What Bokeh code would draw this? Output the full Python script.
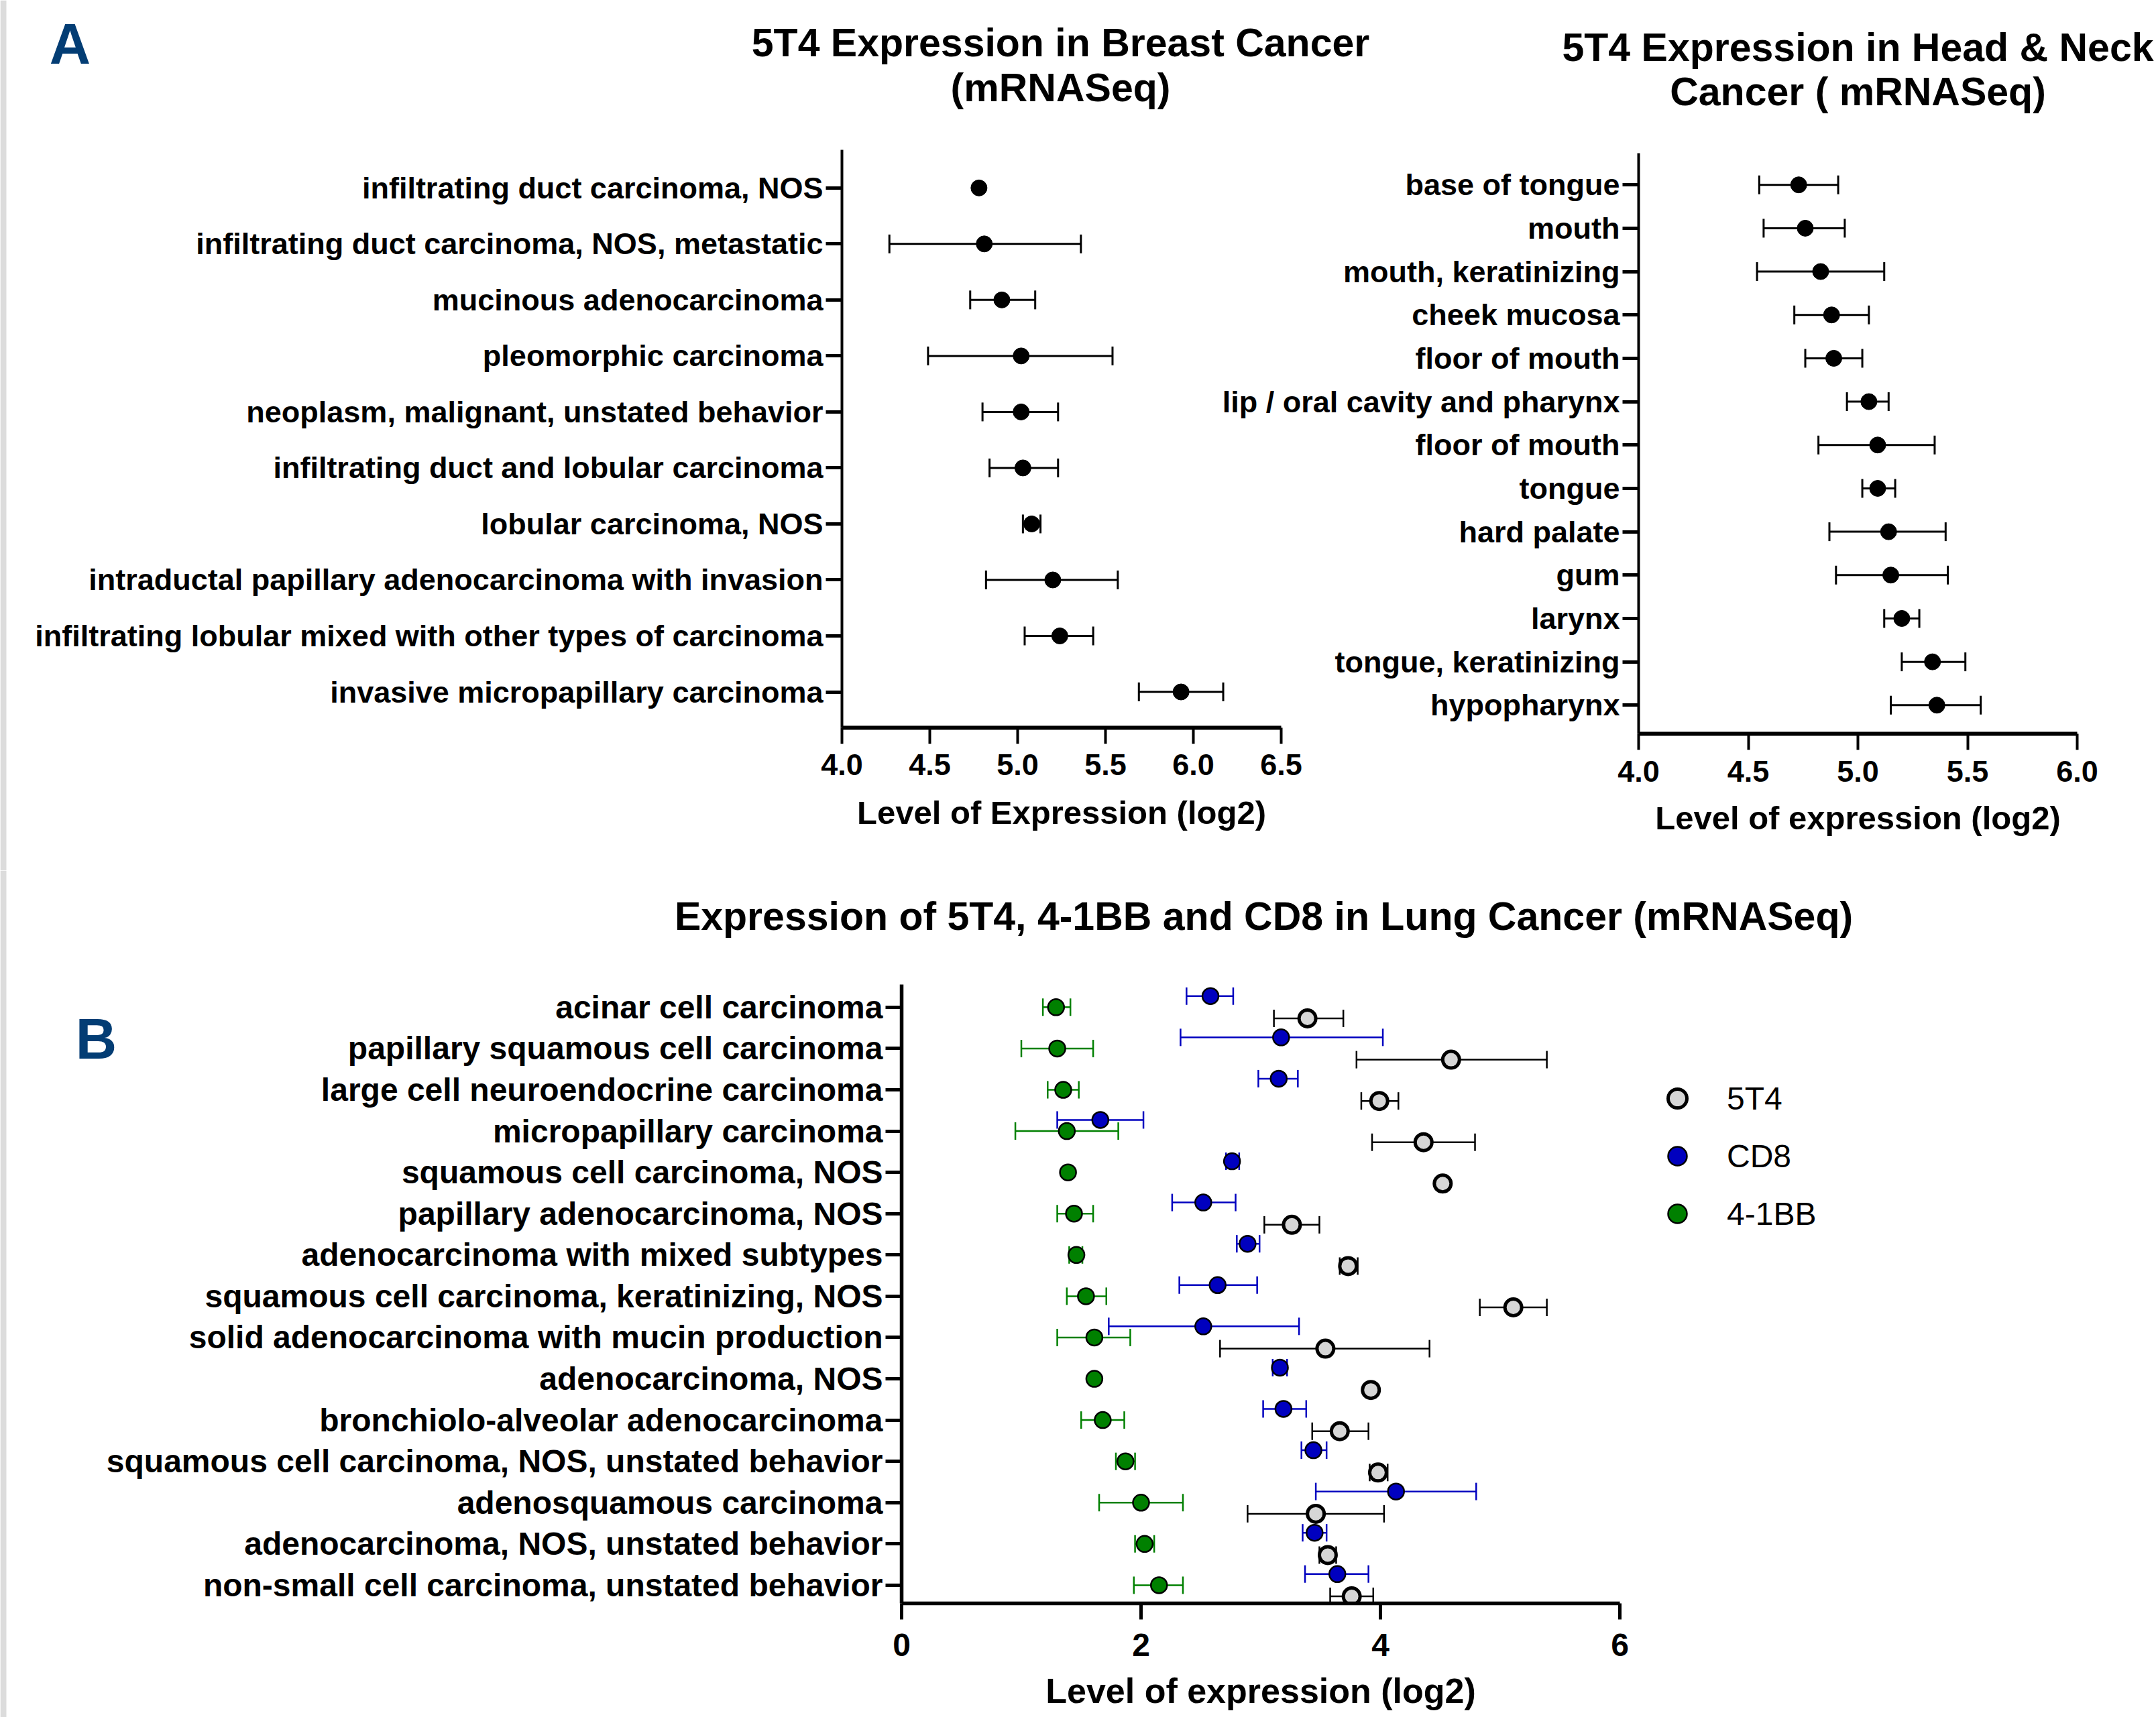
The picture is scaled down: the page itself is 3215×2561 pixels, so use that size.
import math
from bokeh.plotting import figure
from bokeh.models import (ColumnDataSource, Range1d, FixedTicker, Legend,
                          LegendItem, GridBox)
from bokeh.core.properties import value
from bokeh.embed import file_html
from bokeh.resources import INLINE

NAN = float("nan")
FONT = "Liberation Sans"

# ---------------- data ----------------
breast_categories = [
    "infiltrating duct carcinoma, NOS",
    "infiltrating duct carcinoma, NOS, metastatic",
    "mucinous adenocarcinoma",
    "pleomorphic carcinoma",
    "neoplasm, malignant, unstated behavior",
    "infiltrating duct and lobular carcinoma",
    "lobular carcinoma, NOS",
    "intraductal papillary adenocarcinoma with invasion",
    "infiltrating lobular mixed with other types of carcinoma",
    "invasive micropapillary carcinoma",
]
breast_mean = [4.78, 4.81, 4.91, 5.02, 5.02, 5.03, 5.08, 5.20, 5.24, 5.93]
breast_low = [NAN, 4.27, 4.73, 4.49, 4.80, 4.84, 5.03, 4.82, 5.04, 5.69]
breast_high = [NAN, 5.36, 5.10, 5.54, 5.23, 5.23, 5.13, 5.57, 5.43, 6.17]
breast_ticks = [4.0, 4.5, 5.0, 5.5, 6.0, 6.5]

hn_categories = [
    "base of tongue", "mouth", "mouth, keratinizing", "cheek mucosa",
    "floor of mouth", "lip / oral cavity and pharynx", "floor of mouth",
    "tongue", "hard palate", "gum", "larynx", "tongue, keratinizing",
    "hypopharynx",
]
hn_mean = [4.73, 4.76, 4.83, 4.88, 4.89, 5.05, 5.09, 5.09, 5.14, 5.15, 5.20, 5.34, 5.36]
hn_low = [4.55, 4.57, 4.54, 4.71, 4.76, 4.95, 4.82, 5.02, 4.87, 4.90, 5.12, 5.20, 5.15]
hn_high = [4.91, 4.94, 5.12, 5.05, 5.02, 5.14, 5.35, 5.17, 5.40, 5.41, 5.28, 5.49, 5.56]
hn_ticks = [4.0, 4.5, 5.0, 5.5, 6.0]

lung_categories = [
    "acinar cell carcinoma",
    "papillary squamous cell carcinoma",
    "large cell neuroendocrine carcinoma",
    "micropapillary carcinoma",
    "squamous cell carcinoma, NOS",
    "papillary adenocarcinoma, NOS",
    "adenocarcinoma with mixed subtypes",
    "squamous cell carcinoma, keratinizing, NOS",
    "solid adenocarcinoma with mucin production",
    "adenocarcinoma, NOS",
    "bronchiolo-alveolar adenocarcinoma",
    "squamous cell carcinoma, NOS, unstated behavior",
    "adenosquamous carcinoma",
    "adenocarcinoma, NOS, unstated behavior",
    "non-small cell carcinoma, unstated behavior",
]
t5t4_mean = [3.39, 4.59, 3.99, 4.36, 4.52, 3.26, 3.73, 5.11, 3.54, 3.92, 3.66, 3.98, 3.46, 3.56, 3.76]
t5t4_low = [3.11, 3.80, 3.84, 3.93, NAN, 3.03, 3.66, 4.83, 2.66, NAN, 3.43, 3.91, 2.89, 3.49, 3.58]
t5t4_high = [3.69, 5.39, 4.15, 4.79, NAN, 3.49, 3.81, 5.39, 4.41, NAN, 3.90, 4.06, 4.03, 3.63, 3.94]
cd8_mean = [2.58, 3.17, 3.15, 1.66, 2.76, 2.52, 2.89, 2.64, 2.52, 3.16, 3.19, 3.44, 4.13, 3.45, 3.64]
cd8_low = [2.38, 2.33, 2.98, 1.30, 2.71, 2.26, 2.80, 2.32, 1.73, 3.10, 3.02, 3.34, 3.46, 3.35, 3.37]
cd8_high = [2.77, 4.02, 3.31, 2.02, 2.82, 2.79, 2.99, 2.97, 3.32, 3.22, 3.38, 3.55, 4.80, 3.55, 3.90]
bb_mean = [1.29, 1.30, 1.35, 1.38, 1.39, 1.44, 1.46, 1.54, 1.61, 1.61, 1.68, 1.87, 2.00, 2.03, 2.15]
bb_low = [1.18, 1.00, 1.22, 0.95, NAN, 1.30, 1.40, 1.38, 1.30, NAN, 1.50, 1.79, 1.65, 1.95, 1.94]
bb_high = [1.41, 1.60, 1.48, 1.81, NAN, 1.60, 1.51, 1.71, 1.91, NAN, 1.86, 1.95, 2.35, 2.11, 2.35]
lung_ticks = [0, 2, 4, 6]
lung_series = ["5T4", "CD8", "4-1BB"]

breast_title = ["5T4 Expression in Breast Cancer", "(mRNASeq)"]
hn_title = ["5T4 Expression in Head & Neck", "Cancer ( mRNASeq)"]
lung_title = "Expression of 5T4, 4-1BB and CD8 in Lung Cancer (mRNASeq)"
panel_letters = ["A", "B"]

PANEL_COLOR = "#033d74"
BLUE = "#0000bf"
GREEN = "#008000"
GRAY = "#d6d6d6"
W, H = 3215, 2561
ROW0 = 1298


def base_fig(width, height, xr, yr, left, right, top, bottom, transparent=False):
    p = figure(width=width, height=height, x_range=xr, y_range=yr,
               output_backend="svg", toolbar_location=None,
               min_border_left=left, min_border_right=right,
               min_border_top=top, min_border_bottom=bottom)
    p.frame_align = False
    p.xgrid.visible = False
    p.ygrid.visible = False
    p.outline_line_color = None
    if transparent:
        p.border_fill_alpha = 0
        p.background_fill_alpha = 0
    for ax in p.axis:
        ax.axis_line_color = "black"
        ax.major_tick_line_color = "black"
        ax.major_tick_out = 24
        ax.major_tick_in = 0
        ax.minor_tick_line_color = None
        ax.major_label_text_font = FONT
        ax.major_label_text_font_style = "bold"
        ax.major_label_text_color = "black"
        ax.axis_label_text_font = FONT
        ax.axis_label_text_font_style = "bold"
        ax.axis_label_text_color = "black"
    return p


def overlay_fig(width, height, y0, y1):
    p = figure(width=width, height=height, x_range=Range1d(0, width),
               y_range=Range1d(y1, y0), output_backend="svg",
               toolbar_location=None, x_axis_type=None, y_axis_type=None,
               min_border=0)
    p.frame_align = False
    p.xgrid.visible = False
    p.ygrid.visible = False
    p.outline_line_color = None
    p.border_fill_alpha = 0
    p.background_fill_alpha = 0
    # light grey strip at the left edge of the page
    p.quad(left=[0], right=[9], bottom=[y1], top=[y0], fill_color="#dcdcdc",
           line_color=None)
    return p


def dot_panel(p, cats, mean, low, high, cap, lw, dot):
    n = len(cats)
    y = [n - 1 - i for i in range(n)]
    src = ColumnDataSource(dict(y=y, m=mean, lo=low, hi=high))
    p.segment(x0="lo", y0="y", x1="hi", y1="y", source=src,
              line_color="black", line_width=lw)
    for col in ("lo", "hi"):
        p.scatter(x=col, y="y", source=src, marker="dash", angle=math.pi / 2,
                  size=cap, line_color="black", line_width=lw)
    p.scatter(x="m", y="y", source=src, size=dot, fill_color="black",
              line_color="black")
    p.yaxis.ticker = FixedTicker(ticks=y)
    p.yaxis.major_label_overrides = {yy: c for yy, c in zip(y, cats)}
    return y


def style_panel_axes(p, ticks, xlabel, tick_standoff, label_standoff):
    p.xaxis.ticker = FixedTicker(ticks=ticks)
    p.xaxis.major_label_overrides = {v: f"{v:.1f}" for v in ticks}
    p.xaxis.axis_label = xlabel
    p.xaxis.axis_line_width = 6
    p.yaxis.axis_line_width = 4
    p.xaxis.major_tick_line_width = 4
    p.yaxis.major_tick_line_width = 5
    p.yaxis.major_label_text_font_size = "45px"
    p.xaxis.major_label_text_font_size = "45px"
    p.xaxis.axis_label_text_font_size = "49px"
    p.yaxis.major_label_standoff = 4
    p.xaxis.major_label_standoff = tick_standoff
    p.xaxis.axis_label_standoff = label_standoff


# ---------------- breast ----------------
nb = len(breast_categories)
pb = base_fig(1950, ROW0, Range1d(4.0, 6.5), Range1d(-0.64, nb - 1 + 0.68),
              1255, 40, 223, 213)
dot_panel(pb, breast_categories, breast_mean, breast_low, breast_high, 28, 3, 24)
style_panel_axes(pb, breast_ticks, "Level of Expression (log2)", 15, 26)

# ---------------- head & neck ----------------
nh = len(hn_categories)
ph = base_fig(1435, ROW0, Range1d(4.0, 6.0), Range1d(-0.66, nh - 1 + 0.73),
              663, 118, 228, 204, transparent=True)
dot_panel(ph, hn_categories, hn_mean, hn_low, hn_high, 28, 3, 24)
style_panel_axes(ph, hn_ticks, "Level of expression (log2)", 16, 24)

# ---------------- lung ----------------
nl = len(lung_categories)
pl = base_fig(W, H - ROW0, Range1d(0, 6), Range1d(-0.44, nl - 1 + 0.55),
              1344, 800, 170, 170)
yl = [nl - 1 - i for i in range(nl)]
OFF = 0.27
series = [
    (t5t4_mean, t5t4_low, t5t4_high, [v - OFF for v in yl], "black", GRAY, 5, 25),
    (cd8_mean, cd8_low, cd8_high, [v + OFF for v in yl], BLUE, BLUE, 2.5, 24),
    (bb_mean, bb_low, bb_high, list(yl), GREEN, GREEN, 2.5, 24),
]
srcs = []
for mean, lo, hi, ys, ecol, fcol, olw, sz in series:
    src = ColumnDataSource(dict(y=ys, m=mean, lo=lo, hi=hi))
    srcs.append(src)
    pl.segment(x0="lo", y0="y", x1="hi", y1="y", source=src,
               line_color=ecol, line_width=2.5)
    for col in ("lo", "hi"):
        pl.scatter(x=col, y="y", source=src, marker="dash", angle=math.pi / 2,
                   size=26, line_color=ecol, line_width=2.5)
dots = []
for (mean, lo, hi, ys, ecol, fcol, olw, sz), src in zip(series, srcs):
    r = pl.scatter(x="m", y="y", source=src, size=sz, fill_color=fcol,
                   line_color="black", line_width=olw)
    dots.append(r)
pl.yaxis.ticker = FixedTicker(ticks=yl)
pl.yaxis.major_label_overrides = {yy: c for yy, c in zip(yl, lung_categories)}
pl.xaxis.ticker = FixedTicker(ticks=lung_ticks)
pl.xaxis.axis_label = "Level of expression (log2)"
pl.xaxis.axis_line_width = 5.5
pl.yaxis.axis_line_width = 5.5
pl.xaxis.major_tick_line_width = 5
pl.yaxis.major_tick_line_width = 5
pl.yaxis.major_label_text_font_size = "48px"
pl.xaxis.major_label_text_font_size = "48px"
pl.xaxis.axis_label_text_font_size = "52px"
pl.yaxis.major_label_standoff = 4
pl.xaxis.major_label_standoff = 21
pl.xaxis.axis_label_standoff = 20

legend = Legend(items=[LegendItem(label=s, renderers=[r]) for s, r in zip(lung_series, dots)],
                location=(51, 546), glyph_width=70, glyph_height=70,
                label_standoff=39, spacing=16, padding=0, margin=0,
                border_line_color=None, background_fill_alpha=0,
                label_text_font=FONT, label_text_font_size="48px",
                label_text_color="black", label_height=48)
pl.add_layout(legend, "right")

# ---------------- titles and panel letters ----------------
top = overlay_fig(W, ROW0, 0, ROW0)
top.text(x=[1581, 1581, 2770, 2770], y=[63, 130.5, 70.5, 136.5],
         text=breast_title + hn_title, text_font=value(FONT),
         text_font_size=value("59px"), text_font_style="bold",
         text_color="black", text_align="center", text_baseline="middle")
top.text(x=[104], y=[64.5], text=[panel_letters[0]], text_font=value(FONT),
         text_font_size=value("85px"), text_font_style="bold",
         text_color=PANEL_COLOR, text_align="center", text_baseline="middle")

bot = overlay_fig(W, H - ROW0, ROW0, H)
bot.text(x=[1884], y=[1366], text=[lung_title], text_font=value(FONT),
         text_font_size=value("59px"), text_font_style="bold",
         text_color="black", text_align="center", text_baseline="middle")
bot.text(x=[143], y=[1549], text=[panel_letters[1]], text_font=value(FONT),
         text_font_size=value("85px"), text_font_style="bold",
         text_color=PANEL_COLOR, text_align="center", text_baseline="middle")

grid = GridBox(children=[(pb, 0, 0, 1, 2), (ph, 0, 1, 1, 2), (pl, 1, 0, 1, 3),
                         (top, 0, 0, 1, 3), (bot, 1, 0, 1, 3)],
               cols=["1780px", "170px", "1265px"],
               rows=[f"{ROW0}px", f"{H - ROW0}px"])

open("out.html", "w").write(file_html(grid, INLINE))
